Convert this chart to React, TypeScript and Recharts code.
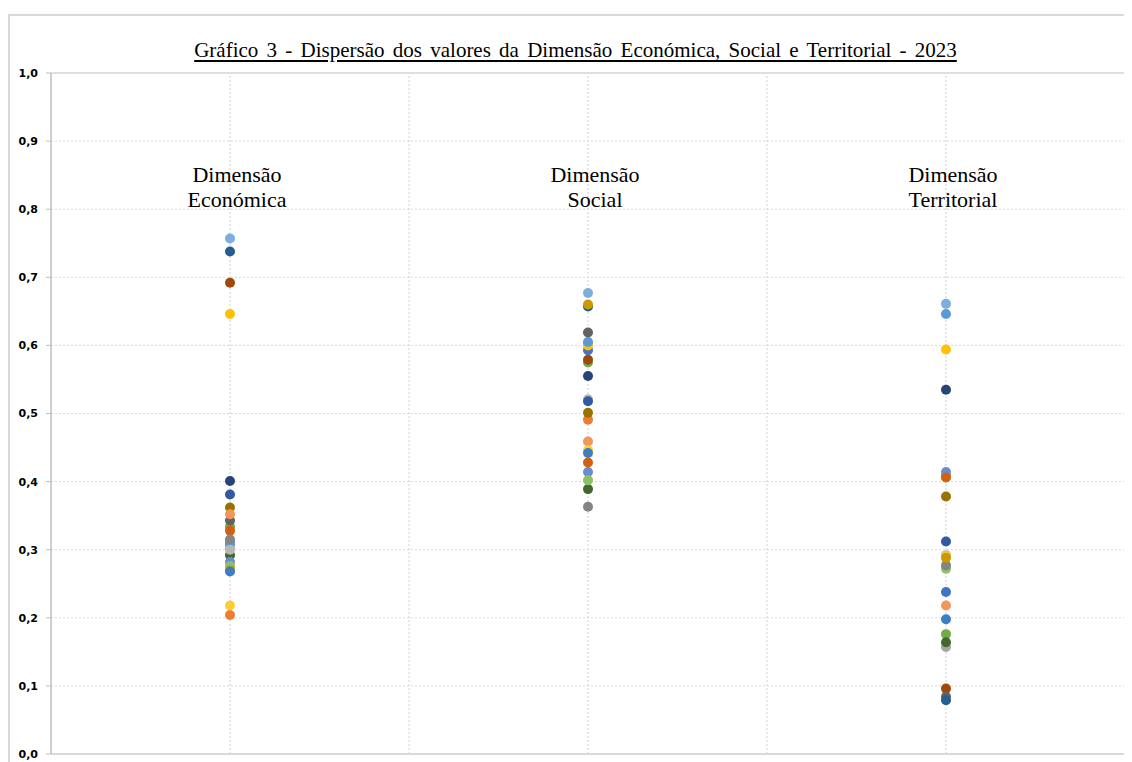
import React from "react";
import {
  ScatterChart,
  Scatter,
  XAxis,
  YAxis,
  CartesianGrid,
  ReferenceDot,
  ReferenceLine,
} from "recharts";

// Categories (three dimensions) and their x positions on the numeric axis
const categories = [
  ["Dimensão", "Económica"],
  ["Dimensão", "Social"],
  ["Dimensão", "Territorial"],
];
const categoryX = [1, 3, 5];

// One colour per entity (series), Excel default palette order
const seriesColors = [
  "#4472C4", "#ED7D31", "#A5A5A5", "#FFC000", "#5B9BD5", "#70AD47",
  "#264478", "#9E480E", "#636363", "#997300", "#255E91", "#43682B",
  "#698ED0", "#F1975A", "#B7B7B7", "#FFCD33", "#7CAFDD", "#8CC168",
  "#335AA1", "#D26012", "#848484", "#CC9A00", "#3C7DC4",
];

// Values per series for each dimension
const economica = [
  0.308, 0.204, 0.304, 0.646, 0.311, 0.334,
  0.401, 0.692, 0.343, 0.362, 0.738, 0.292,
  0.282, 0.352, 0.300, 0.218, 0.757, 0.276,
  0.381, 0.328, 0.315, 0.270, 0.268,
];
const social = [
  0.593, 0.491, 0.603, 0.600, 0.605, 0.575,
  0.555, 0.579, 0.619, 0.501, 0.657, 0.389,
  0.414, 0.459, 0.521, 0.446, 0.677, 0.402,
  0.518, 0.428, 0.363, 0.660, 0.442,
];
const territorial = [
  0.238, 0.409, 0.157, 0.594, 0.646, 0.176,
  0.535, 0.096, 0.084, 0.378, 0.079, 0.164,
  0.414, 0.218, 0.292, 0.290, 0.661, 0.272,
  0.312, 0.406, 0.277, 0.288, 0.198,
];

const yTicks = [0, 0.1, 0.2, 0.3, 0.4, 0.5, 0.6, 0.7, 0.8, 0.9, 1.0];
const xTicks = [0, 1, 2, 3, 4, 5, 6];
const xGridValues = [1, 2, 3, 4, 5];

const title =
  "Gráfico 3 - Dispersão dos valores da Dimensão Económica, Social e Territorial - 2023";

const seriesData = seriesColors.map((_, i) => [
  { x: categoryX[0], y: economica[i] },
  { x: categoryX[1], y: social[i] },
  { x: categoryX[2], y: territorial[i] },
]);

const SERIF = "'Liberation Serif', 'Times New Roman', serif";

export default function App() {
  return (
    <div
      style={{
        position: "relative",
        width: 1119,
        height: 760,
        marginTop: 6,
        border: "2px solid #d9d9d9",
        boxSizing: "border-box",
        background: "#fff",
      }}
    >
      <div
        style={{
          position: "absolute",
          left: 565.5,
          top: 24,
          transform: "translateX(-50%)",
          whiteSpace: "nowrap",
          fontFamily: SERIF,
          fontSize: 21,
          lineHeight: "20px",
          textDecoration: "underline",
          textUnderlineOffset: 3,
          wordSpacing: 3,
          color: "#000",
        }}
      >
        {title}
      </div>
      <ScatterChart
        width={1115}
        height={756}
        margin={{ top: 57, right: 0, bottom: 10, left: 3 }}
      >
        <CartesianGrid stroke="#d9d9d9" strokeDasharray="2 2" vertical={false} />
        <XAxis
          type="number"
          dataKey="x"
          domain={[0, 6]}
          ticks={xTicks}
          tick={false}
          tickLine={false}
          height={8}
          axisLine={{ stroke: "#d9d9d9", strokeWidth: 2 }}
        />
        <YAxis
          type="number"
          dataKey="y"
          domain={[0, 1]}
          ticks={yTicks}
          width={38}
          tickSize={5}
          tickMargin={8}
          axisLine={{ stroke: "#bfbfbf", strokeWidth: 1.5 }}
          tickLine={{ stroke: "#bfbfbf" }}
          tick={{
            fill: "#000",
            fontFamily: "'DejaVu Sans', sans-serif",
            fontWeight: "bold",
            fontSize: 11,
          }}
          tickFormatter={(v: number) => v.toFixed(1).replace(".", ",")}
        />
        {xGridValues.map((v) => (
          <ReferenceLine
            key={"vx" + v}
            x={v}
            stroke="#d0d0d0"
            strokeDasharray="2 2"
          />
        ))}
        <ReferenceLine y={1} stroke="#d9d9d9" strokeWidth={1.5} />
        {categories.map((lines, i) => (
          <ReferenceDot
            key={"lbl" + i}
            x={categoryX[i]}
            y={0.84}
            r={0}
            ifOverflow="visible"
            shape={(p: any) => (
              <text
                x={p.cx + 7}
                y={p.cy}
                textAnchor="middle"
                fontFamily={SERIF}
                fontSize={22}
                fill="#000"
              >
                <tspan x={p.cx + 7} dy={0}>
                  {lines[0]}
                </tspan>
                <tspan x={p.cx + 7} dy={25}>
                  {lines[1]}
                </tspan>
              </text>
            )}
          />
        ))}
        {seriesData.map((d, i) => (
          <Scatter
            key={"s" + i}
            data={d}
            isAnimationActive={false}
            shape={(p: any) => (
              <circle cx={p.cx} cy={p.cy} r={5} fill={seriesColors[i]} />
            )}
          />
        ))}
      </ScatterChart>
    </div>
  );
}
